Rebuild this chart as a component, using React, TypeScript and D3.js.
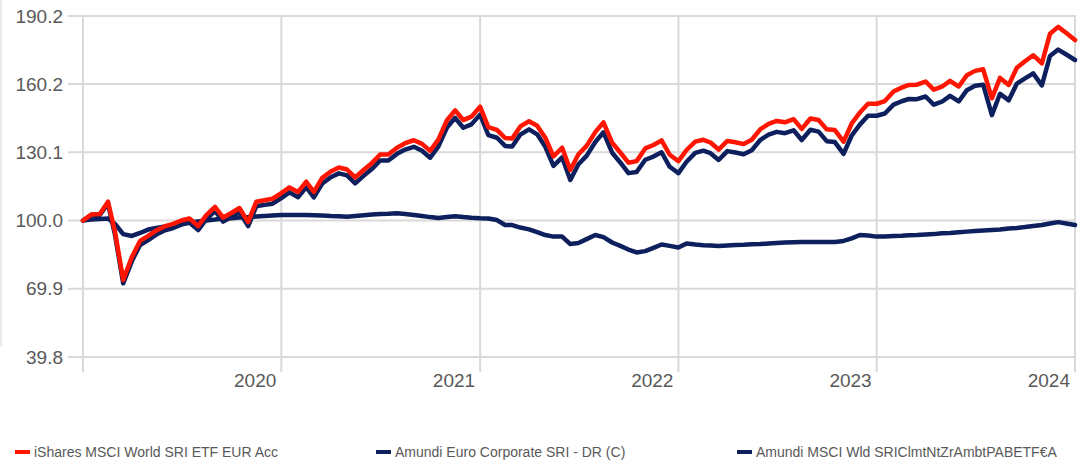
import React, { useEffect, useRef } from 'react';
import * as d3 from 'd3';

const WIDTH = 1084;
const HEIGHT = 462;

// legend / series info
const seriesNames = [
  'iShares MSCI World SRI ETF EUR Acc',
  'Amundi Euro Corporate SRI - DR (C)',
  'Amundi MSCI Wld SRIClmtNtZrAmbtPABETF€A',
];
const seriesColors = ['#ff1500', '#0e1f5e', '#0e1f5e'];

const yTicks = [39.8, 69.9, 100.0, 130.1, 160.2, 190.2];
const xTickYears = [2020, 2021, 2022, 2023, 2024];

// values on the 1st and 16th of each month, Jan 2019 -> Jan 2024 (rebased to 100)
const iShares = [
  100.0, 102.6, 102.9, 108.3, 94.9, 73.8, 83.9, 91.0, 93.2, 95.6,
  97.5, 98.5, 100.0, 100.9, 97.6, 102.4, 106.0, 101.3, 103.3, 105.5,
  99.3, 108.3, 108.9, 109.6, 112.1, 114.6, 112.6, 117.1, 112.6, 118.7,
  121.6, 123.4, 122.5, 119.0, 122.4, 125.4, 129.1, 129.1, 132.1, 134.1,
  135.4, 133.8, 130.7, 135.7, 144.2, 148.6, 144.3, 145.8, 150.2, 141.2,
  140.0, 136.4, 136.2, 141.5, 143.8, 141.8, 136.5, 128.3, 132.1, 122.3,
  129.2, 132.9, 139.0, 143.3, 134.3, 130.0, 125.5, 126.2, 131.8, 133.3,
  135.3, 129.0, 126.2, 131.1, 134.8, 135.6, 134.4, 131.3, 135.1, 134.5,
  133.7, 135.6, 140.3, 142.6, 143.9, 143.3, 144.7, 140.4, 145.0, 144.3,
  140.2, 139.9, 134.8, 142.8, 147.6, 151.5, 151.5, 152.7, 156.9, 158.6,
  159.8, 159.9, 161.3, 157.7, 159.0, 161.6, 159.1, 164.1, 166.0, 166.7,
  153.9, 162.9, 159.8, 167.4, 170.2, 172.9, 169.3, 182.4, 185.4, 182.7,
  179.6,
];

const amundiCorp = [
  100.0, 100.4, 100.7, 100.9, 98.5, 94.0, 93.2, 94.5, 96.0, 96.7,
  97.4, 97.8, 98.5, 99.1, 99.6, 100.0, 100.4, 100.9, 101.0, 101.3,
  101.5, 101.8, 102.0, 102.2, 102.4, 102.4, 102.4, 102.4, 102.3, 102.2,
  102.0, 101.9, 101.7, 102.0, 102.3, 102.6, 102.9, 103.0, 103.2, 102.9,
  102.4, 102.0, 101.5, 101.1, 101.5, 101.9, 101.5, 101.2, 101.0, 100.9,
  100.2, 98.0, 98.0, 96.9, 96.1, 94.9, 93.6, 92.9, 92.9, 89.6,
  90.1, 91.8, 93.6, 92.7, 90.3, 88.8, 87.2, 85.9, 86.5, 87.9,
  89.4, 88.8, 88.1, 89.9, 89.4, 89.1, 89.0, 88.8, 89.0, 89.2,
  89.3, 89.5, 89.6, 89.9, 90.1, 90.3, 90.4, 90.5, 90.5, 90.5,
  90.5, 90.5, 91.0, 92.1, 93.6, 93.4, 92.9, 92.9, 93.2, 93.3,
  93.5, 93.6, 93.8, 94.0, 94.4, 94.5, 94.8, 95.1, 95.4, 95.6,
  95.8, 96.0, 96.5, 96.7, 97.1, 97.6, 98.0, 98.7, 99.3, 98.7,
  98.0,
];

const amundiPab = [
  100.0, 102.4, 102.5, 107.4, 93.6, 72.3, 82.1, 89.2, 91.4, 93.8,
  95.7, 96.7, 98.2, 99.1, 95.8, 100.6, 104.2, 99.5, 101.5, 103.7,
  97.5, 106.3, 106.9, 107.4, 109.9, 112.4, 110.3, 114.7, 110.2, 116.2,
  119.1, 120.8, 119.9, 116.4, 119.8, 122.8, 126.5, 126.5, 129.4, 131.3,
  132.5, 130.8, 127.7, 132.6, 141.0, 145.3, 140.9, 142.4, 146.7, 137.7,
  136.5, 132.9, 132.6, 137.9, 140.2, 138.0, 132.5, 124.1, 127.8, 117.9,
  124.8, 128.5, 134.6, 138.9, 129.9, 125.6, 120.9, 121.4, 126.8, 128.2,
  130.1, 123.7, 120.9, 125.9, 129.8, 130.8, 129.7, 126.7, 130.6, 130.0,
  129.2, 131.0, 135.6, 137.9, 139.1, 138.5, 139.8, 135.5, 140.0, 139.2,
  135.0, 134.6, 129.4, 137.5, 142.3, 146.2, 146.2, 147.2, 151.1, 152.6,
  153.6, 153.5, 154.7, 151.1, 152.4, 155.0, 152.5, 157.5, 159.4, 159.9,
  146.5, 155.9, 153.0, 160.4, 162.7, 164.9, 159.6, 172.6, 175.4, 173.2,
  170.8,
];

const dates = d3.range(iShares.length).map(
  (i) => new Date(2019, Math.floor(i / 2), i % 2 ? 16 : 1)
);

export default function App() {
  const svgRef = useRef<SVGSVGElement>(null);

  useEffect(() => {
    const svg = d3.select(svgRef.current);
    svg.selectAll('*').remove();

    const font = '"Liberation Sans", Arial, sans-serif';
    const x = d3.scaleTime()
      .domain([new Date(2019, 0, 1), new Date(2024, 0, 1)])
      .range([83, 1075]);
    const y = d3.scaleLinear()
      .domain([yTicks[0], yTicks[yTicks.length - 1]])
      .range([357, 16]);

    // faint frame line at the far left
    svg.append('line')
      .attr('x1', 1).attr('x2', 1).attr('y1', 0).attr('y2', 347)
      .attr('stroke', '#e3e3e3').attr('stroke-width', 1.5);

    const grid = svg.append('g').attr('stroke', '#d9d9d9').attr('stroke-width', 2);

    // horizontal gridlines + labels
    grid.selectAll('line.h')
      .data(yTicks)
      .join('line')
      .attr('class', 'h')
      .attr('x1', 68).attr('x2', 1076)
      .attr('y1', (d) => y(d)).attr('y2', (d) => y(d));

    svg.append('g')
      .selectAll('text')
      .data(yTicks)
      .join('text')
      .attr('x', 63)
      .attr('y', (d) => y(d))
      .attr('dy', '0.35em')
      .attr('text-anchor', 'end')
      .attr('font-family', font)
      .attr('font-size', 19)
      .attr('fill', '#595959')
      .text((d) => d.toFixed(1));

    // vertical gridlines (start of data + each year)
    const vTicks = [new Date(2019, 0, 1), ...xTickYears.map((yr) => new Date(yr, 0, 1))];
    grid.selectAll('line.v')
      .data(vTicks)
      .join('line')
      .attr('class', 'v')
      .attr('x1', (d) => x(d)).attr('x2', (d) => x(d))
      .attr('y1', 16).attr('y2', 372);

    svg.append('g')
      .selectAll('text')
      .data(xTickYears)
      .join('text')
      .attr('x', (d) => x(new Date(d, 0, 1)) - 5)
      .attr('y', 387)
      .attr('text-anchor', 'end')
      .attr('font-family', font)
      .attr('font-size', 19)
      .attr('fill', '#595959')
      .text((d) => String(d));

    // lines: bond fund first, then PAB fund, iShares on top
    const line = d3.line<number>()
      .x((_, i) => x(dates[i]))
      .y((d) => y(d))
      .curve(d3.curveLinear);

    const drawOrder = [
      { values: amundiCorp, color: seriesColors[1] },
      { values: amundiPab, color: seriesColors[2] },
      { values: iShares, color: seriesColors[0] },
    ];

    svg.append('g')
      .selectAll('path')
      .data(drawOrder)
      .join('path')
      .attr('d', (d) => line(d.values))
      .attr('fill', 'none')
      .attr('stroke', (d) => d.color)
      .attr('stroke-width', 4.5)
      .attr('stroke-linejoin', 'round')
      .attr('stroke-linecap', 'round');

    // legend
    const legend = svg.append('g')
      .selectAll('g')
      .data(seriesNames)
      .join('g')
      .attr('transform', (_, i) => `translate(${15 + i * 361}, 452)`);

    legend.append('rect')
      .attr('x', 0).attr('y', -2)
      .attr('width', 15).attr('height', 4)
      .attr('fill', (_, i) => seriesColors[i]);

    legend.append('text')
      .attr('x', 19)
      .attr('dy', '0.35em')
      .attr('font-family', font)
      .attr('font-size', 14)
      .attr('fill', '#595959')
      .text((d) => d);
  }, []);

  return (
    <div style={{ position: 'fixed', left: 0, top: 0, background: '#fff' }}>
      <svg ref={svgRef} width={WIDTH} height={HEIGHT} style={{ display: 'block' }} />
    </div>
  );
}
